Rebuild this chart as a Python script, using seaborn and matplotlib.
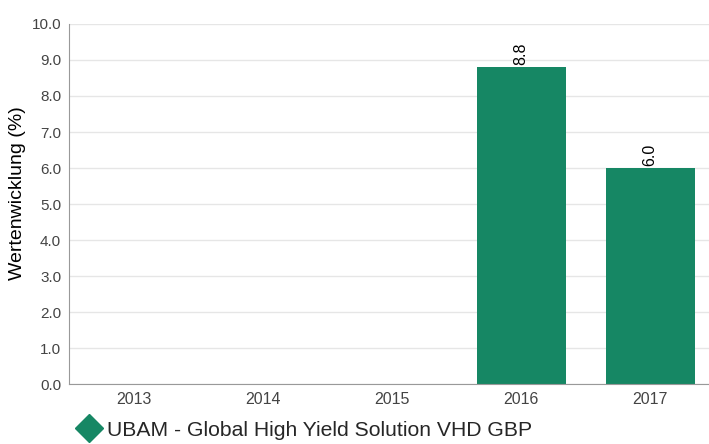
import pandas as pd
import numpy as np
import matplotlib.pyplot as plt
import seaborn as sns
from matplotlib.lines import Line2D

# Daten
jahre = ['2013', '2014', '2015', '2016', '2017']
werte = [np.nan, np.nan, np.nan, 8.8, 6.0]
fonds = 'UBAM - Global High Yield Solution VHD GBP'
farbe = '#168764'

df = pd.DataFrame({'Jahr': jahre, 'Wert': werte})

sns.set_style('white')
plt.rcParams['font.family'] = ['Liberation Sans', 'DejaVu Sans']

fig = plt.figure(figsize=(7.09, 4.44), dpi=100)
ax = fig.add_axes([0.098, 0.135, 0.91, 0.811])

sns.barplot(x='Jahr', y='Wert', data=df, color=farbe, saturation=1, width=0.69,
            linewidth=0, ax=ax)

# Werte über den Balken
for i, v in enumerate(werte):
    if not np.isnan(v):
        ax.text(i, v + 0.05, f'{v:.1f}', rotation=90, ha='center', va='bottom',
                fontsize=11.5, color='black')

ax.set_ylim(0, 10)
ax.set_xlim(-0.5, 4.5)
ax.set_yticks(np.arange(0, 10.5, 1))
ax.set_yticklabels([f'{t:.1f}' for t in np.arange(0, 10.5, 1)])
ax.set_xlabel('')
ax.set_ylabel('Wertenwicklung (%)', fontsize=14, color='black')
ax.yaxis.set_label_coords(-0.068, 0.53)
ax.tick_params(axis='y', labelsize=11, colors='#444444', length=0, pad=6)
ax.tick_params(axis='x', labelsize=11.5, colors='#444444', length=0, pad=6)
ax.yaxis.grid(True, color='#e6e6e6', linewidth=1)
ax.set_axisbelow(True)

for s in ['top', 'right']:
    ax.spines[s].set_visible(False)
ax.spines['left'].set_color('#999999')
ax.spines['bottom'].set_color('#999999')

# Legende unten
handle = Line2D([], [], marker='D', linestyle='', markersize=14,
                markerfacecolor=farbe, markeredgecolor=farbe)
fig.legend([handle], [fonds], loc='lower left', bbox_to_anchor=(0.084, -0.033),
           frameon=False, fontsize=15.2, handletextpad=0.35, handlelength=1.0)

fig.savefig('out.png', dpi=100)
